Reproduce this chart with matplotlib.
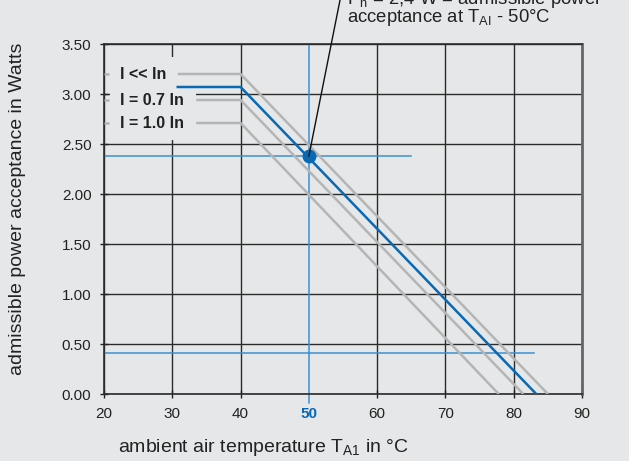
import matplotlib as mpl
import matplotlib.pyplot as plt
from matplotlib.patches import Rectangle

mpl.rc("font", family=["Liberation Sans", "DejaVu Sans"])

bg = "#e6e7e8"
grey = "#b5b5b5"
blue = "#0a69b3"
light_blue = "#3a8fd4"

# derating curves: plateau up to the knee, then straight down to zero
knee = 40
curve_labels = ["I << In", "I = 0.7 In", "I = 1.0 In"]
curve_plateau = [3.20, 2.94, 2.71]
curve_zero = [85.0, 81.4, 77.8]
curve_start = [30.8, 33.5, 33.5]

blue_plateau = 3.07
blue_zero = 83.3
blue_start = 30.8

# operating point and helper lines
point_t = 50
point_p = 2.38
helper_low = 0.41
helper_low_end = 83.0
helper_high_end = 65.0

xticks = [20, 30, 40, 50, 60, 70, 80, 90]
yticks = [0.0, 0.5, 1.0, 1.5, 2.0, 2.5, 3.0, 3.5]

fig = plt.figure(figsize=(6.29, 4.61), dpi=100, facecolor=bg)
ax = fig.add_axes([104 / 629, 1 - 394 / 461, 478 / 629, 350 / 461])
ax.set_facecolor(bg)
ax.set_xlim(20, 90)
ax.set_ylim(0, 3.5)

ax.set_xticks(xticks)
ax.set_yticks(yticks)
ax.set_yticklabels([f"{v:.2f}" for v in yticks])
ax.grid(True, color="#2b2b2b", lw=1.0, zorder=0)
ax.set_axisbelow(True)
ax.tick_params(direction="inout", length=6, width=1, color="#222222",
               labelsize=11, labelcolor="#222222", pad=6)
for side in ["left", "bottom", "top"]:
    ax.spines[side].set_color("#2b2b2b")
    ax.spines[side].set_linewidth(1.2)
ax.spines["right"].set_color("#666666")
ax.spines["right"].set_linewidth(2)

# the 50 degree column is marked in blue only
i50 = xticks.index(point_t)
ax.xaxis.get_gridlines()[i50].set_visible(False)
tk = ax.xaxis.get_major_ticks()[i50]
tk.tick1line.set_visible(False)
tk.tick2line.set_visible(False)
tk.label1.set_color(blue)
tk.label1.set_fontweight("bold")

# box behind the curve labels hides the grid there
ax.add_patch(Rectangle((20.9, 2.54), 33.5 - 20.9, 3.37 - 2.54,
                       facecolor=bg, edgecolor="none", zorder=1))

for lab, p, z, s in zip(curve_labels, curve_plateau, curve_zero, curve_start):
    ax.plot([s, knee, z], [p, p, 0], color=grey, lw=1.8, zorder=3,
            solid_capstyle="butt")
    ax.plot([20, 20.7], [p, p], color=grey, lw=1.8, zorder=3,
            solid_capstyle="butt")
    ax.text(22.3, p, lab, fontsize=11.5, fontweight="bold", color="#222222",
            va="center", ha="left", zorder=4)

ax.plot([blue_start, knee, blue_zero], [blue_plateau, blue_plateau, 0],
        color=blue, lw=1.8, zorder=5)

ax.plot([point_t, point_t], [-0.09, 3.5], color=light_blue, lw=1.1, zorder=2,
        clip_on=False)
ax.plot([20, helper_high_end], [point_p, point_p], color=light_blue, lw=1.1,
        zorder=2)
ax.plot([20, helper_low_end], [helper_low, helper_low], color=light_blue,
        lw=1.1, zorder=2)
ax.plot([point_t], [point_p], "o", color=blue, ms=9, zorder=6)

# leader line to the note at the top
ax.plot([point_t, 54.8], [point_p, 4.02], color="#111111", lw=1, zorder=6,
        clip_on=False)

fig.text(347 / 629, 1 - 18 / 461, "acceptance at T$_{\\mathregular{AI}}$ - 50°C",
         fontsize=13.3, color="#222222", va="center", ha="left")
fig.text(347 / 629, 1 + 1 / 461,
         "P$_{\\mathregular{n}}$ = 2,4 W = admissible power",
         fontsize=13.3, color="#222222", va="center", ha="left")
fig.text(88 / 629, 1 + 8 / 461, "I$_{\\mathregular{n}}$", fontsize=13,
         color="#222222", va="center", ha="left")

ax.set_xlabel("ambient air temperature T$_{\\mathregular{A1}}$ in °C",
              fontsize=14, color="#222222", labelpad=12)
ax.xaxis.label.set_x(0.333)
ax.set_ylabel("admissible power acceptance in Watts", fontsize=14,
              color="#222222", labelpad=26)
ax.yaxis.label.set_y(0.529)

fig.savefig("out.png", dpi=100, facecolor=bg)
